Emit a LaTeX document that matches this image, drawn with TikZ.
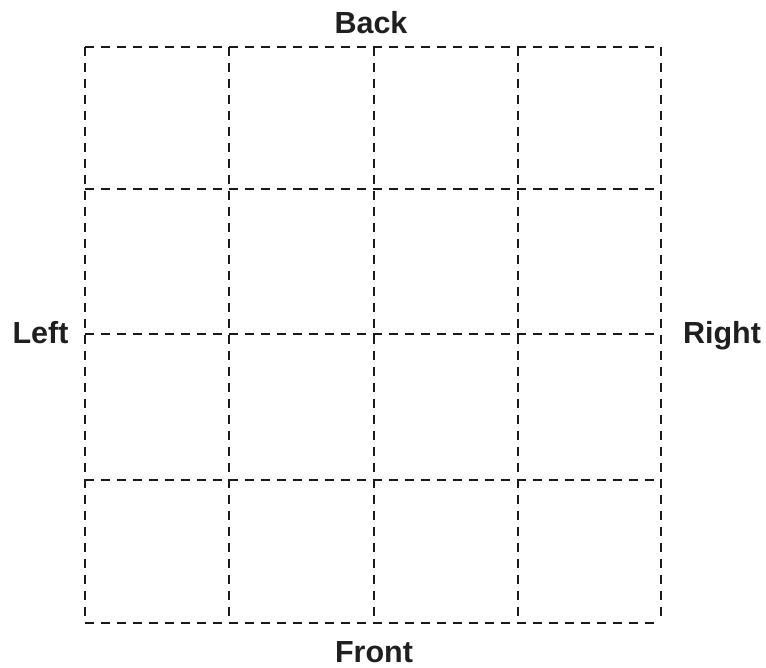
\documentclass[tikz,border=0pt]{standalone}
\usepackage{fontspec}
\setmainfont{Liberation Sans}
\begin{document}
\begin{tikzpicture}[x=1pt,y=-1pt,
  gridline/.style={line width=1.6pt, dash pattern=on 9pt off 7pt, black!90},
  lbl/.style={font=\bfseries\fontsize{30.5}{34}\selectfont, text=black!88, inner sep=0pt, anchor=base}]
\useasboundingbox (0,0) rectangle (766,667);
\foreach \i/\x in {0/85,1/229,2/374,3/518,4/661}{
  \coordinate (t\i) at (\x,47);
  \coordinate (b\i) at (\x,623);
}
\foreach \j/\y in {0/47,1/189,2/334,3/480,4/623}{
  \coordinate (l\j) at (85,\y);
  \coordinate (r\j) at (661,\y);
}
\foreach \i in {0,...,4}{
  \draw[gridline] (t\i) -- (b\i);
  \draw[gridline] (l\i) -- (r\i);
}
\node[lbl] (back) at (371,33) {Back};
\node[lbl] (front) at (374,662) {Front};
\node[lbl] (left) at (40.5,343) {Left};
\node[lbl] (right) at (722,343) {Right};
\end{tikzpicture}
\end{document}
